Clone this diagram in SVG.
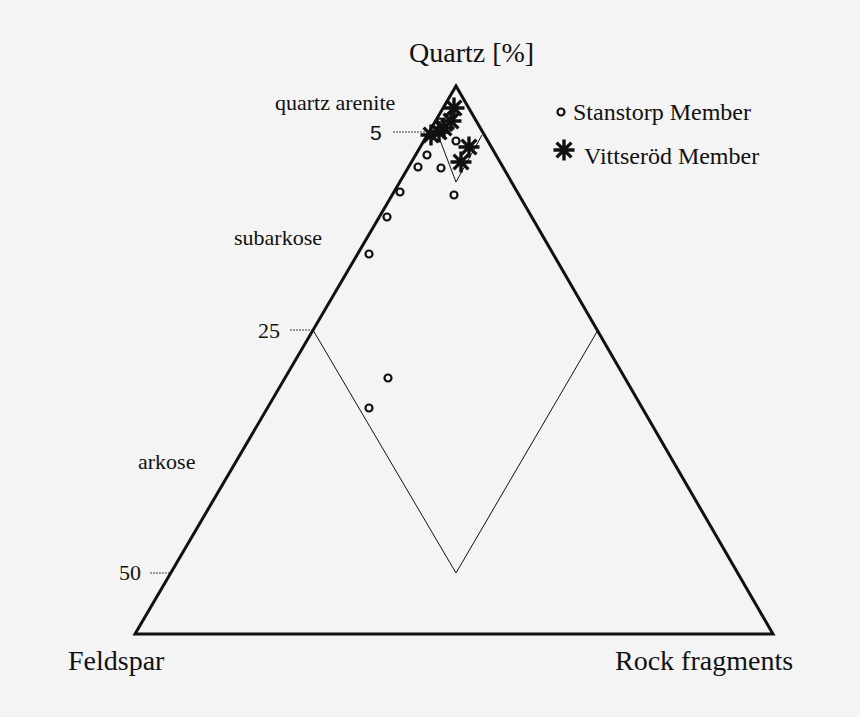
<svg xmlns="http://www.w3.org/2000/svg" width="860" height="717" viewBox="0 0 860 717">
<defs>
<style>
.s{font-family:"Liberation Serif","Times New Roman",serif;fill:#111}
.c{fill:none;stroke:#111;stroke-width:2.2}
.t{stroke:#111;stroke-width:0.8;stroke-dasharray:2 1}
</style>
<g id="star"><path d="M-10.5,0H10.5M0,-10.5V10.5M-7.4,-7.4L7.4,7.4M-7.4,7.4L7.4,-7.4" stroke="#111" stroke-width="3.4"/></g>
</defs>
<rect width="860" height="717" fill="#f4f4f4"/>
<polygon points="456,86 135,634 773,634" fill="none" stroke="#111" stroke-width="3"/>
<polyline points="313,330 456,573 598,330" fill="none" stroke="#111" stroke-width="1"/>
<polyline points="435,127 456,182 482,135" fill="none" stroke="#111" stroke-width="1"/>
<line class="t" x1="393" y1="132" x2="432" y2="132"/>
<line class="t" x1="290" y1="330" x2="313" y2="330"/>
<line class="t" x1="150" y1="573" x2="172" y2="573"/>
<text class="s" x="409" y="62" font-size="28">Quartz [%]</text>
<text class="s" x="275" y="110" font-size="22">quartz arenite</text>
<text x="370" y="140" font-family="Liberation Sans,sans-serif" font-size="21" fill="#111">5</text>
<text class="s" x="234" y="245" font-size="22">subarkose</text>
<text class="s" x="258" y="338" font-size="22">25</text>
<text class="s" x="138" y="469" font-size="22">arkose</text>
<text class="s" x="119" y="580" font-size="22">50</text>
<text class="s" x="68" y="670" font-size="28">Feldspar</text>
<text class="s" x="615" y="670" font-size="28">Rock fragments</text>
<circle class="c" cx="561" cy="112" r="3.5"/>
<text class="s" x="573" y="120" font-size="24">Stanstorp Member</text>
<use href="#star" transform="translate(564,150)"/>
<text class="s" x="584" y="164" font-size="24">Vittseröd Member</text>
<g>
<circle class="c" cx="440" cy="122" r="3.5"/>
<circle class="c" cx="456" cy="141" r="3.5"/>
<circle class="c" cx="427" cy="155" r="3.5"/>
<circle class="c" cx="418" cy="167" r="3.5"/>
<circle class="c" cx="441" cy="168" r="3.5"/>
<circle class="c" cx="400" cy="192" r="3.5"/>
<circle class="c" cx="454" cy="195" r="3.5"/>
<circle class="c" cx="387" cy="217" r="3.5"/>
<circle class="c" cx="369" cy="254" r="3.5"/>
<circle class="c" cx="388" cy="378" r="3.5"/>
<circle class="c" cx="369" cy="408" r="3.5"/>
</g>
<g>
<use href="#star" transform="translate(454,108)"/>
<use href="#star" transform="translate(451,121)"/>
<use href="#star" transform="translate(444,128)"/>
<use href="#star" transform="translate(431,135)"/>
<use href="#star" transform="translate(439,132)"/>
<use href="#star" transform="translate(469,147)"/>
<use href="#star" transform="translate(461,162)"/>
</g>
</svg>
